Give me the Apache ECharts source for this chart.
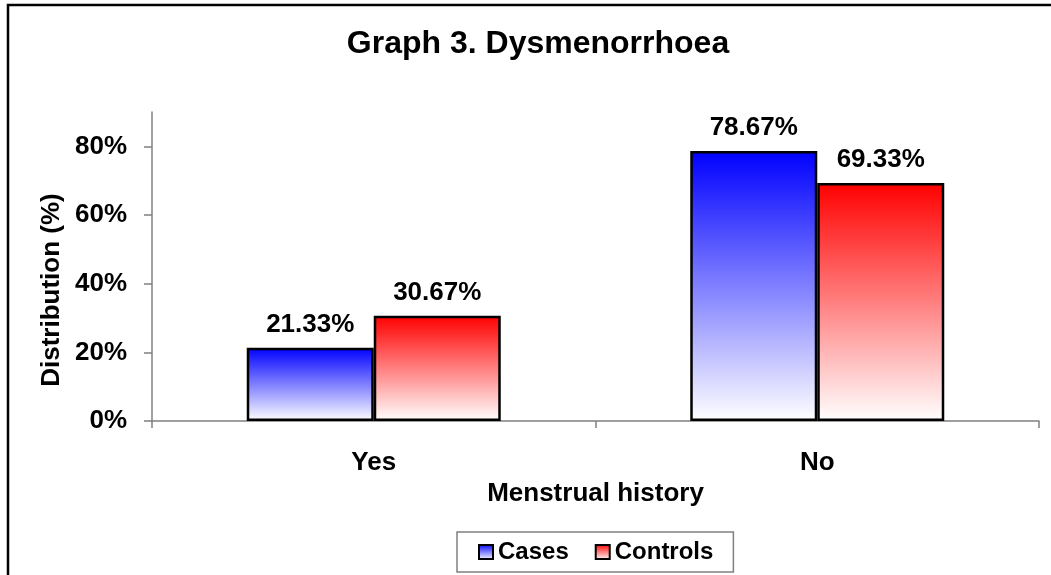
<!DOCTYPE html>
<html>
<head>
<meta charset="utf-8">
<script src="https://cdn.jsdelivr.net/npm/echarts@6/dist/echarts.min.js"></script>
<style>
html,body{margin:0;padding:0;background:#fff;}
#chart{width:1051px;height:575px;}
</style>
</head>
<body>
<div id="chart"></div>
<script>
const categories = ['Yes', 'No'];
const casesValues = [21.33, 78.67];
const controlsValues = [30.67, 69.33];
const yTickValues = [0, 20, 40, 60, 80];

const FONT = '"Liberation Sans", Arial, sans-serif';
const chart = echarts.init(document.getElementById('chart'), null, {renderer: 'canvas'});

function grad(top, bottom) {
  return new echarts.graphic.LinearGradient(0, 0, 0, 1, [
    {offset: 0, color: top},
    {offset: 1, color: bottom}
  ]);
}

const labelCfg = {
  show: true,
  position: 'top',
  distance: 10,
  color: '#000',
  fontFamily: FONT,
  fontWeight: 'bold',
  fontSize: 26,
  formatter: p => p.value.toFixed(2) + '%'
};

chart.setOption({
  animation: false,
  backgroundColor: '#fff',
  textStyle: {fontFamily: FONT},
  title: {
    text: 'Graph 3. Dysmenorrhoea',
    left: 533,
    textAlign: 'center',
    top: 23,
    textStyle: {fontFamily: FONT, fontWeight: 'bold', fontSize: 32, color: '#000'}
  },
  graphic: [
    {
      type: 'rect',
      shape: {x: 8, y: 5, width: 1100, height: 700},
      style: {fill: null, stroke: '#000', lineWidth: 2.5},
      silent: true
    },
    {
      type: 'text',
      x: 52, y: 290,
      rotation: Math.PI / 2,
      style: {
        text: 'Distribution (%)',
        fontFamily: FONT, fontWeight: 'bold', fontSize: 26, fill: '#000',
        align: 'center', verticalAlign: 'middle'
      }
    }
  ],
  legend: {
    left: 457,
    top: 532,
    padding: [5, 20, 5, 21],
    itemWidth: 14,
    itemHeight: 14,
    itemGap: 26,
    icon: 'rect',
    borderColor: '#808080',
    borderWidth: 1.5,
    textStyle: {fontFamily: FONT, fontWeight: 'bold', fontSize: 24, color: '#000', lineHeight: 30},
    data: ['Cases', 'Controls']
  },
  grid: {left: 152, right: 12, top: 112, bottom: 154, containLabel: false},
  xAxis: {
    type: 'category',
    data: categories,
    name: 'Menstrual history',
    nameLocation: 'middle',
    nameGap: 57,
    nameTextStyle: {fontFamily: FONT, fontWeight: 'bold', fontSize: 26, color: '#000'},
    axisLine: {lineStyle: {color: '#808080', width: 1.5}},
    axisTick: {show: true, length: 7, lineStyle: {color: '#808080', width: 1.5}},
    axisLabel: {margin: 29, fontFamily: FONT, fontWeight: 'bold', fontSize: 26, color: '#000'}
  },
  yAxis: {
    type: 'value',
    min: 0,
    max: 90,
    interval: 20,
    splitLine: {show: false},
    axisLine: {show: true, lineStyle: {color: '#808080', width: 1.5}},
    axisTick: {show: true, length: 8, lineStyle: {color: '#808080', width: 1.5}, customValues: yTickValues},
    axisLabel: {
      margin: 25,
      fontFamily: FONT, fontWeight: 'bold', fontSize: 26, color: '#000',
      customValues: yTickValues,
      formatter: v => v + '%'
    }
  },
  series: [
    {
      name: 'Cases',
      type: 'bar',
      data: casesValues,
      barWidth: 127,
      barGap: '0%',
      itemStyle: {color: grad('#0000ff', '#ffffff'), borderColor: '#000', borderWidth: 2.5},
      label: labelCfg
    },
    {
      name: 'Controls',
      type: 'bar',
      data: controlsValues,
      barWidth: 127,
      barGap: '0%',
      itemStyle: {color: grad('#ff0000', '#ffffff'), borderColor: '#000', borderWidth: 2.5},
      label: labelCfg
    }
  ]
});
</script>
</body>
</html>
